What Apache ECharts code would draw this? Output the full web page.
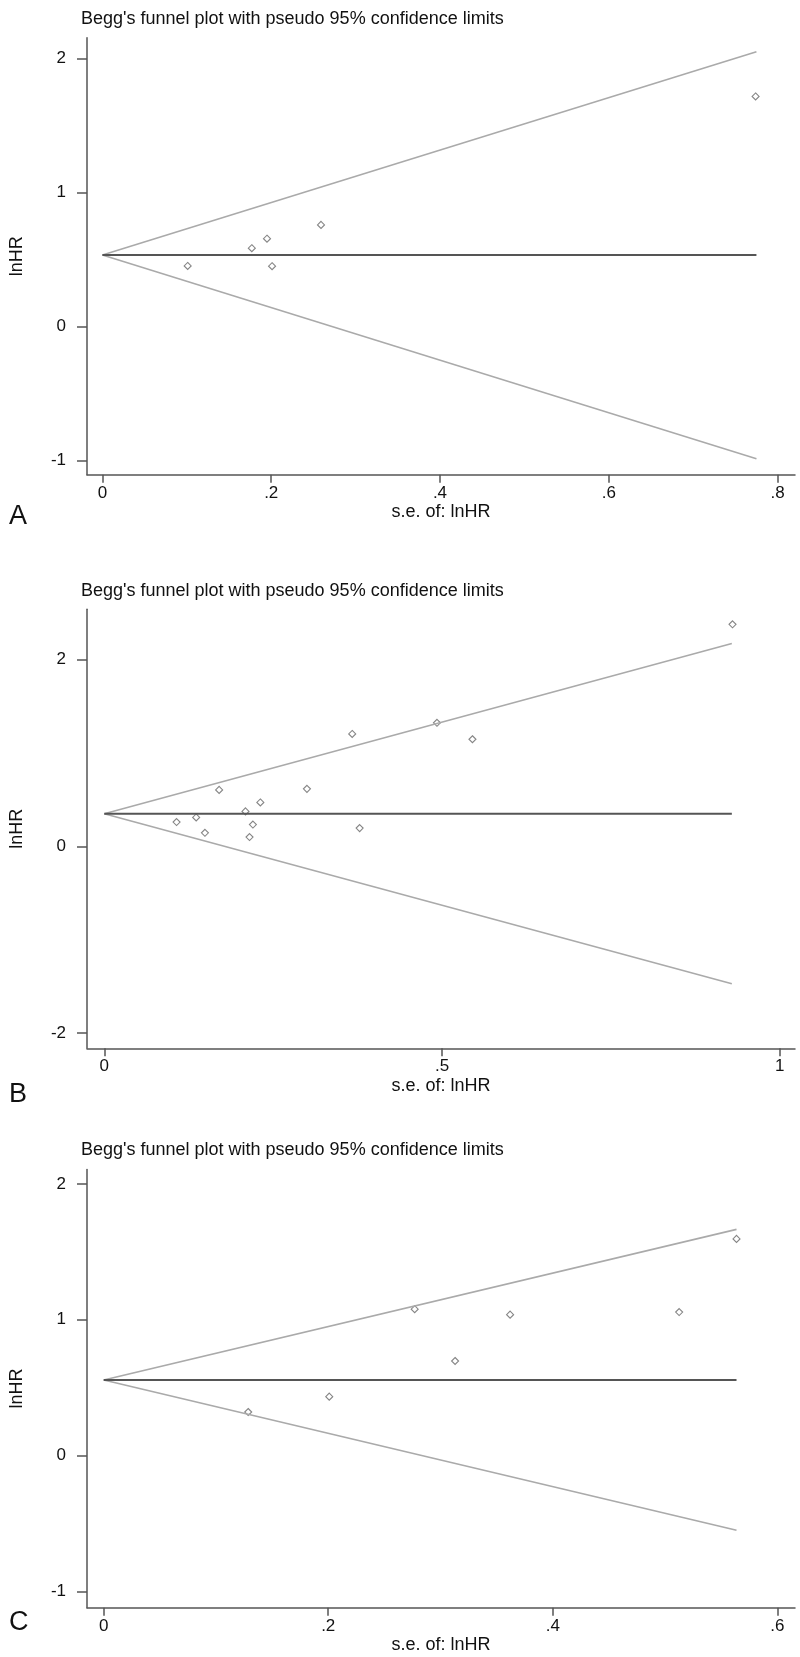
<!DOCTYPE html>
<html>
<head>
<meta charset="utf-8">
<script src="https://cdn.jsdelivr.net/npm/echarts@6/dist/echarts.min.js"></script>
<style>
html,body{margin:0;padding:0;background:#fff;}
#chart{width:800px;height:1657px;}
</style>
</head>
<body>
<div id="chart"></div>
<script>
// ---- Data ----
const titleText = "Begg's funnel plot with pseudo 95% confidence limits";
const xName = 's.e. of: lnHR';
const yName = 'lnHR';
const panelLetters = ['A', 'B', 'C'];

// Panel A
const seA = [0.101, 0.177, 0.195, 0.201, 0.259, 0.774];
const lnhrA = [0.453, 0.585, 0.656, 0.451, 0.759, 1.717];
const limSeA = [0, 0.775];
const upperA = [0.535, 2.05];
const lowerA = [0.535, -0.985];
const centerA = [0.535, 0.535];
const xTicksA = [0, 0.2, 0.4, 0.6, 0.8];
const yTicksA = [-1, 0, 1, 2];

// Panel B
const seB = [0.107, 0.136, 0.149, 0.170, 0.209, 0.215, 0.220, 0.231, 0.300, 0.367, 0.378, 0.4925, 0.545, 0.930];
const lnhrB = [0.260, 0.309, 0.145, 0.604, 0.374, 0.099, 0.233, 0.470, 0.615, 1.203, 0.195, 1.322, 1.146, 2.376];
const limSeB = [0, 0.929];
const upperB = [0.348, 2.170];
const lowerB = [0.348, -1.472];
const centerB = [0.348, 0.348];
const xTicksB = [0, 0.5, 1];
const yTicksB = [-2, 0, 2];

// Panel C
const seC = [0.1287, 0.2009, 0.277, 0.313, 0.362, 0.5126, 0.5637];
const lnhrC = [0.322, 0.435, 1.078, 0.697, 1.038, 1.057, 1.595];
const limSeC = [0, 0.5637];
const upperC = [0.557, 1.665];
const lowerC = [0.557, -0.548];
const centerC = [0.557, 0.557];
const xTicksC = [0, 0.2, 0.4, 0.6];
const yTicksC = [-1, 0, 1, 2];

// ---- Layout ----
const FONT = "'Liberation Sans', Arial, sans-serif";
const TXT = '#111';
const AXIS = '#555';
const panels = [
  {se: seA, y: lnhrA, limSe: limSeA, up: upperA, lo: lowerA, ce: centerA, xt: xTicksA, yt: yTicksA,
   grid: {left: 77, top: 37.7, width: 718, height: 437}, xr: [-0.0183, 0.8207], yr: [-1.104, 2.155],
   titleTop: 5, letterY: 517, xNameGap: 25},
  {se: seB, y: lnhrB, limSe: limSeB, up: upperB, lo: lowerB, ce: centerB, xt: xTicksB, yt: yTicksB,
   grid: {left: 77.5, top: 609.3, width: 717.5, height: 439}, xr: [-0.0256, 1.0225], yr: [-2.162, 2.537],
   titleTop: 577, letterY: 1095, xNameGap: 29},
  {se: seC, y: lnhrC, limSe: limSeC, up: upperC, lo: lowerC, ce: centerC, xt: xTicksC, yt: yTicksC,
   grid: {left: 77.5, top: 1169.4, width: 717.5, height: 438.3}, xr: [-0.0149, 0.6158], yr: [-1.117, 2.106],
   titleTop: 1136, letterY: 1623, xNameGap: 28}
];

function fmt(v) {
  if (v === 0) return '0';
  let s = String(Math.round(v * 1000) / 1000);
  s = s.replace(/^0\./, '.').replace(/^-0\./, '-.');
  return s;
}

const option = {
  backgroundColor: '#fff',
  animation: false,
  title: [], grid: [], xAxis: [], yAxis: [], series: [], graphic: []
};

panels.forEach((p, i) => {
  option.title.push({
    text: titleText, left: 76, top: p.titleTop,
    textStyle: {fontFamily: FONT, fontSize: 18, fontWeight: 'normal', color: TXT}
  });
  option.grid.push(Object.assign({containLabel: false}, p.grid));
  option.xAxis.push({
    type: 'value', gridIndex: i, min: p.xr[0], max: p.xr[1],
    name: xName, nameLocation: 'middle', nameGap: p.xNameGap,
    nameTextStyle: {fontFamily: FONT, fontSize: 18, color: TXT},
    axisLine: {show: true, onZero: false, lineStyle: {color: AXIS, width: 1.5}},
    axisTick: {show: true, length: 8, lineStyle: {color: AXIS, width: 1.5}, customValues: p.xt},
    axisLabel: {show: true, margin: 10, fontFamily: FONT, fontSize: 17, color: TXT,
      customValues: p.xt, formatter: fmt},
    splitLine: {show: false}
  });
  option.yAxis.push({
    type: 'value', gridIndex: i, min: p.yr[0], max: p.yr[1],
    name: yName, nameLocation: 'middle', nameGap: 61, nameRotate: 90,
    nameTextStyle: {fontFamily: FONT, fontSize: 18, color: TXT},
    axisLine: {show: true, onZero: false, lineStyle: {color: AXIS, width: 1.5}},
    axisTick: {show: true, length: 10, lineStyle: {color: AXIS, width: 1.5}, customValues: p.yt},
    axisLabel: {show: true, margin: 21, fontFamily: FONT, fontSize: 17, color: TXT,
      customValues: p.yt, formatter: fmt},
    splitLine: {show: false}
  });
  const mk = (ys) => p.limSe.map((x, k) => [x, ys[k]]);
  option.series.push({
    type: 'line', xAxisIndex: i, yAxisIndex: i, data: mk(p.up), symbol: 'none',
    lineStyle: {color: '#aaaaaa', width: 1.6}, silent: true
  });
  option.series.push({
    type: 'line', xAxisIndex: i, yAxisIndex: i, data: mk(p.lo), symbol: 'none',
    lineStyle: {color: '#aaaaaa', width: 1.6}, silent: true
  });
  option.series.push({
    type: 'line', xAxisIndex: i, yAxisIndex: i, data: mk(p.ce), symbol: 'none',
    lineStyle: {color: '#555555', width: 1.9}, silent: true
  });
  option.series.push({
    type: 'scatter', xAxisIndex: i, yAxisIndex: i,
    data: p.se.map((x, k) => [x, p.y[k]]),
    symbol: 'diamond', symbolSize: 7,
    itemStyle: {color: '#fff', borderColor: '#666', borderWidth: 1.1}
  });
  option.graphic.push({
    type: 'text', left: 9, top: p.letterY - 14,
    style: {text: panelLetters[i], font: '27px ' + FONT, fill: TXT}
  });
});

const chart = echarts.init(document.getElementById('chart'), null, {renderer: 'canvas'});
chart.setOption(option);
</script>
</body>
</html>
